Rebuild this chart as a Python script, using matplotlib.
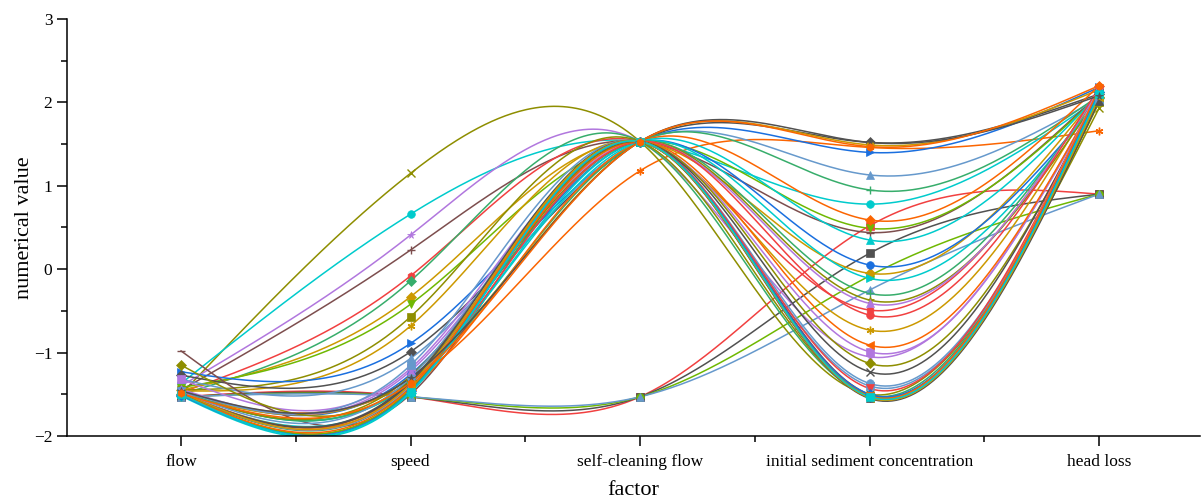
import numpy as np
import matplotlib
matplotlib.use("Agg")
import matplotlib.pyplot as plt
from matplotlib.ticker import MultipleLocator

# ---------------- data ----------------
factors = ["flow", "speed", "self-cleaning flow", "initial sediment concentration", "head loss"]

flow = [-1.53, -1.53, -1.53, -1.53, -1.50, -1.50, -1.37, -1.40, -1.45, -1.48,
        -1.50, -1.45, -1.42, -1.45, -1.46, -1.23, -1.27, -1.32, -1.32, -1.45,
        -1.48, -0.98, -1.50, -1.52, -1.47, -1.50, -1.46, -1.49, -1.44, -1.51,
        -1.48, -1.46, -1.15, -1.49, -1.47, -1.50, -1.48, -1.52, -1.50, -1.47,
        -1.49, -1.51, -1.50, -1.48, -1.50, -1.46, -1.49]
speed = [-1.53, -1.53, -1.53, -1.53, -1.35, 1.15, 0.66, 0.41, 0.23, -0.08,
         -0.14, -0.33, -0.42, -0.57, -0.68, -0.89, -0.99, -1.07, -1.19, -1.26,
         -1.37, -1.50, -1.30, -1.45, -1.35, -1.40, -1.32, -1.28, -1.22, -1.42,
         -1.38, -1.15, -1.33, -1.36, -1.30, -1.45, -1.40, -1.48, -1.44, -1.39,
         -1.34, -1.46, -1.42, -1.38, -1.47, -1.30, -1.36]
self_cleaning = [-1.53, -1.53, -1.53, -1.53, 1.18, 1.53, 1.53, 1.53, 1.53, 1.53,
                 1.53, 1.53, 1.53, 1.53, 1.53, 1.53, 1.53, 1.53, 1.53, 1.53,
                 1.53, 1.53, 1.53, 1.53, 1.53, 1.53, 1.53, 1.53, 1.53, 1.53,
                 1.53, 1.53, 1.53, 1.53, 1.53, 1.53, 1.53, 1.53, 1.53, 1.53,
                 1.53, 1.53, 1.53, 1.53, 1.53, 1.53, 1.53]
sediment = [0.52, 0.19, -0.08, -0.25, 1.46, -1.50, 0.78, -1.05, 0.44, -0.49,
            -1.51, -0.05, 0.49, -1.52, -0.73, 1.40, 1.52, 1.13, -0.99, 0.05,
            0.95, -1.50, 1.49, 0.59, 0.35, -0.11, -0.29, -0.37, -0.41, -0.55,
            -0.91, -1.40, -1.13, -1.23, -1.37, -1.43, -1.51, -1.53, -1.52, -1.54,
            -1.55, -1.50, -1.52, -1.54, -1.53, 1.52, 1.47]
head_loss = [0.90, 0.90, 0.90, 0.90, 1.66, 1.93, 2.05, 2.08, 2.10, 2.15,
             2.05, 2.12, 2.08, 2.00, 2.15, 2.18, 2.10, 2.05, 2.12, 2.02,
             2.08, 2.05, 2.15, 2.20, 2.10, 2.05, 2.12, 2.07, 2.14, 2.18,
             2.10, 2.03, 2.06, 2.11, 2.04, 2.16, 2.09, 2.13, 2.07, 2.19,
             2.02, 2.12, 2.17, 2.06, 2.10, 2.08, 2.20]

# ---------------- styles ----------------
palette = {"grey": "#515151", "red": "#F14040", "blue": "#1A6FDF", "green": "#37AD6B",
           "purple": "#B177DE", "gold": "#CC9900", "cyan": "#00CBCC", "brown": "#7D4E4E",
           "olive": "#8E8E00", "orange": "#FB6501", "lblue": "#6699CC", "lime": "#6FB802"}
AST = (6, 2, 0)
line_colors = ["red", "grey", "lime", "lblue", "orange", "olive", "cyan", "purple", "brown", "red",
               "green", "gold", "lime", "olive", "gold", "blue", "grey", "lblue", "purple", "blue",
               "green", "brown", "gold", "orange", "cyan", "cyan", "green", "olive", "purple", "red",
               "orange", "lblue", "olive", "grey", "lblue", "red", "green", "cyan", "lime", "purple",
               "grey", "blue", "orange", "gold", "cyan", "grey", "orange"]
line_markers = ["s", "s", "o", "^", AST, "x", "o", "*", "+", "h",
                "D", "D", "v", "s", AST, ">", "D", "^", "s", "o",
                "+", "_", "o", "D", "^", ">", "+", "*", "^", "o",
                "<", "s", "D", "x", "o", "v", "h", "D", "<", "h",
                "^", "D", "v", "<", "s", "*", "h"]


def natural_spline(xk, yk, xs):
    xk = np.asarray(xk, float)
    yk = np.asarray(yk, float)
    n = len(xk)
    h = np.diff(xk)
    A = np.zeros((n, n))
    b = np.zeros(n)
    A[0, 0] = 1
    A[-1, -1] = 1
    for i in range(1, n - 1):
        A[i, i - 1] = h[i - 1]
        A[i, i] = 2 * (h[i - 1] + h[i])
        A[i, i + 1] = h[i]
        b[i] = 6 * ((yk[i + 1] - yk[i]) / h[i] - (yk[i] - yk[i - 1]) / h[i - 1])
    M = np.linalg.solve(A, b)
    out = np.empty_like(xs)
    for j, x in enumerate(xs):
        i = min(max(np.searchsorted(xk, x) - 1, 0), n - 2)
        t1 = xk[i + 1] - x
        t0 = x - xk[i]
        hi = h[i]
        out[j] = (M[i] * t1 ** 3 / (6 * hi) + M[i + 1] * t0 ** 3 / (6 * hi)
                  + (yk[i] / hi - M[i] * hi / 6) * t1 + (yk[i + 1] / hi - M[i + 1] * hi / 6) * t0)
    return out


plt.rcParams["font.family"] = ["Liberation Serif", "DejaVu Serif"]
fig = plt.figure(figsize=(12.03, 4.98), dpi=100)
ax = fig.add_axes([67 / 1203, (498 - 436) / 498, (1200 - 67) / 1203, (436 - 19) / 498])

xk = np.arange(len(factors))
xs = np.linspace(0, len(factors) - 1, 400)
rows = np.column_stack([flow, speed, self_cleaning, sediment, head_loss])
for k, row in enumerate(rows):
    c = palette[line_colors[k]]
    ys = natural_spline(xk, row, xs)
    ax.plot(xs, ys, color=c, lw=1.1, zorder=2)
    m = line_markers[k]
    ax.plot(xk, row, ls="none", marker=m, color=c, ms=5.5,
            mew=1.0 if m in ("x", "+", "_", AST) else 0.5, zorder=3)

ax.set_xlim(-0.497, 4.44)
ax.set_ylim(-2, 3)
ax.set_xticks(xk)
ax.set_xticklabels(factors, fontsize=12.5)
ax.xaxis.set_minor_locator(MultipleLocator(0.5))
ax.yaxis.set_major_locator(MultipleLocator(1))
ax.yaxis.set_minor_locator(MultipleLocator(0.5))
ax.tick_params(axis="both", which="major", direction="out", length=7, width=1.1, labelsize=12.5)
ax.tick_params(axis="both", which="minor", direction="out", length=4, width=1.1)
ax.tick_params(axis="x", which="major", pad=6)
for s in ("top", "right"):
    ax.spines[s].set_visible(False)
for s in ("left", "bottom"):
    ax.spines[s].set_linewidth(1.1)
ax.set_xlabel("factor", fontsize=16, labelpad=8)
ax.set_ylabel("numerical value", fontsize=16, labelpad=0)

fig.savefig("out.png", dpi=100)
